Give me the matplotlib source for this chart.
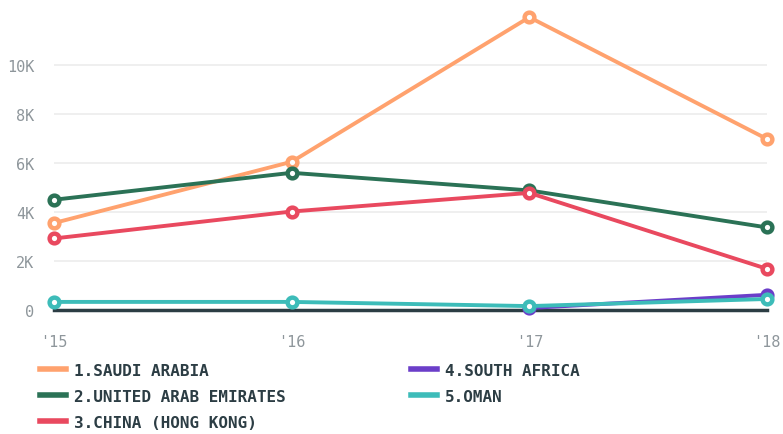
import matplotlib.pyplot as plt

# dados (valores em milhares)
years = [2015, 2016, 2017, 2018]
year_labels = ["'15", "'16", "'17", "'18"]

saudi = [3.55, 6.05, 11.95, 6.98]
uae = [4.5, 5.6, 4.88, 3.37]
china_hk = [2.92, 4.02, 4.78, 1.68]
south_africa_years = [2017, 2018]
south_africa = [0.08, 0.62]
oman = [0.33, 0.33, 0.16, 0.45]

series = [
    ('1.SAUDI ARABIA', years, saudi, '#ffa26e'),
    ('2.UNITED ARAB EMIRATES', years, uae, '#2b7256'),
    ('3.CHINA (HONG KONG)', years, china_hk, '#e9495f'),
    ('4.SOUTH AFRICA', south_africa_years, south_africa, '#6b3ec9'),
    ('5.OMAN', years, oman, '#3dbcb9'),
]

yticks = [0, 2, 4, 6, 8, 10]
ytick_labels = ['0', '2K', '4K', '6K', '8K', '10K']

fig = plt.figure(figsize=(7.83, 4.35), dpi=100)
ax = fig.add_axes([54 / 783, 124 / 435, 713 / 783, 294 / 435])

for i, (name, xs, ys, color) in enumerate(series):
    ax.plot(xs, ys, color=color, lw=2.8, label=name, zorder=3 + i,
            marker='o', markersize=7, markerfacecolor='white',
            markeredgecolor=color, markeredgewidth=3.2, clip_on=False)

ax.set_xlim(2015, 2018)
ax.set_ylim(0, 12)
ax.axhline(0, color='#2c3d44', lw=2.5, zorder=2, clip_on=False)
ax.set_yticks(yticks)
ax.set_yticklabels(ytick_labels)
ax.set_xticks(years)
ax.set_xticklabels(year_labels)
ax.grid(axis='y', color='#ececec', lw=1.2, zorder=0)
for s in ax.spines.values():
    s.set_visible(False)
ax.tick_params(length=0, labelsize=11, labelcolor='#8e969b', pad=14)
for lbl in ax.get_xticklabels() + ax.get_yticklabels():
    lbl.set_family('DejaVu Sans Mono')
ax.tick_params(axis='x', pad=17)

leg = fig.legend(loc='upper left', bbox_to_anchor=(40 / 783, 71 / 435), ncol=2,
                 frameon=False, borderpad=0, borderaxespad=0,
                 handlelength=1.6, handletextpad=0.5,
                 columnspacing=7.9, labelspacing=0.68,
                 prop={'family': 'DejaVu Sans Mono', 'weight': 'bold', 'size': 11.5})
for t in leg.get_texts():
    t.set_color('#2c3d44')
for h in leg.legend_handles:
    h.set_linewidth(4)
    h.set_marker('')

fig.savefig('out.png', dpi=100)
